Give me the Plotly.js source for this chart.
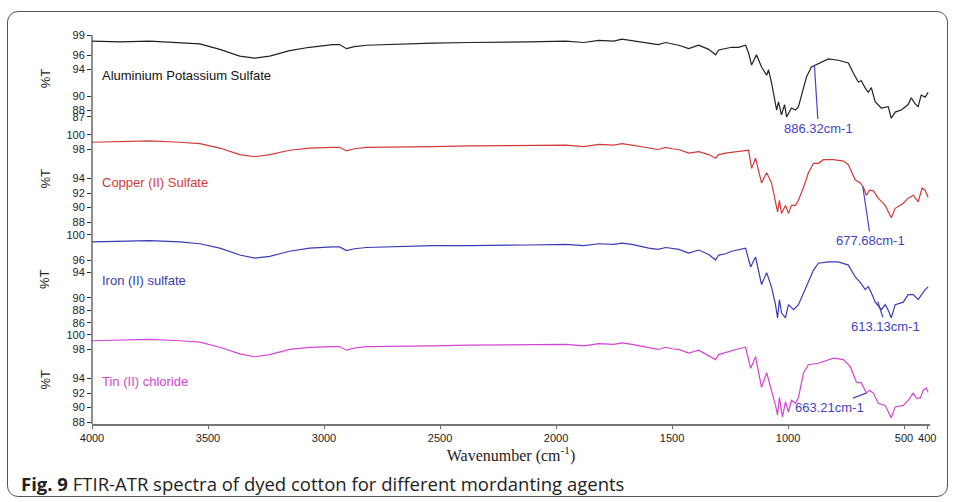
<!DOCTYPE html>
<html>
<head>
<meta charset="utf-8">
<script src="https://cdn.plot.ly/plotly-3.0.1.min.js"></script>
<style>
  html, body { margin: 0; padding: 0; background: #fff; }
  #wrap { position: relative; width: 955px; height: 502px; }
  #chart { position: absolute; left: 0; top: 0; width: 955px; height: 502px; }
  #frame { position: absolute; left: 7px; top: 11px; width: 939px; height: 484px;
           border: 1.3px solid #555; border-radius: 11px; pointer-events: none; }
</style>
</head>
<body>
<div id="wrap">
  <div id="chart"></div>
  <div id="frame"></div>
</div>
<script>
// ---- Data ----
const seriesNames = ["Aluminium Potassium Sulfate", "Copper (II) Sulfate", "Iron (II) sulfate", "Tin (II) chloride"];

const wnAl = [4000,3880,3751,3622,3535,3449,3363,3299,3234,3148,3062,2963,2933,2903,2869,2817,2675,2533,2374,2245,2116,1957,1880,1815,1750,1716,1673,1600,1560,1527,1500,1471,1428,1385,1342,1312,1299,1269,1243,1213,1183,1170,1157,1136,1114,1092,1084,1071,1058,1049,1041,1028,1015,1006,985,968,955,942,920,899,882,860,826,783,740,718,697,684,667,654,641,624,598,568,555,538,512,482,469,452,439,426,409,396];
const tAl  = [98.1,98.0,98.1,97.9,97.7,96.9,95.9,95.6,95.9,96.7,97.2,97.6,97.6,97.0,97.3,97.5,97.7,97.8,97.9,98.0,98.0,98.1,97.9,98.2,98.1,98.4,98.2,97.8,97.6,97.9,97.7,97.5,97.0,97.5,96.9,96.1,96.8,97.0,97.2,97.2,97.5,96.4,94.6,96.1,94.3,93.1,93.9,92.0,89.5,88.0,89.2,87.3,88.8,87.0,88.3,88.0,88.5,90.2,92.9,94.3,94.6,95.0,95.5,95.3,94.9,93.4,92.1,92.3,91.2,90.6,91.3,89.2,88.3,88.5,86.8,87.7,88.0,88.8,89.8,88.9,88.5,90.2,89.9,90.6];

const wnCu = [4000,3880,3751,3622,3535,3449,3363,3299,3234,3148,3062,2963,2933,2903,2869,2817,2675,2533,2374,2245,2116,1957,1880,1815,1750,1716,1673,1600,1560,1527,1500,1471,1428,1385,1342,1312,1299,1269,1243,1213,1170,1157,1140,1114,1092,1071,1054,1045,1037,1028,1011,998,985,968,955,933,912,890,869,847,804,761,740,710,688,675,662,649,632,611,581,555,538,503,482,460,439,422,409,396];
const tCu  = [99.0,99.1,99.2,99.0,98.8,98.2,97.3,97.0,97.3,97.9,98.2,98.3,98.3,97.8,98.1,98.3,98.4,98.4,98.5,98.5,98.5,98.6,98.4,98.7,98.6,98.8,98.6,98.2,98.0,98.3,98.1,98.0,97.5,97.7,97.3,96.8,97.3,97.5,97.6,97.7,97.9,95.4,96.8,93.4,94.8,93.4,90.8,89.4,91.0,89.2,90.3,89.2,90.3,90.3,91.0,92.8,94.8,96.1,96.1,96.6,96.6,96.4,95.9,93.8,93.4,92.8,91.7,92.4,92.3,91.3,90.3,88.6,89.9,90.6,91.3,91.7,90.8,92.7,92.4,91.4];

const wnFe = [4000,3880,3751,3622,3535,3449,3363,3299,3234,3148,3062,2963,2933,2903,2869,2817,2675,2533,2374,2245,2116,1957,1880,1815,1750,1716,1673,1600,1560,1527,1500,1471,1428,1385,1342,1312,1299,1269,1243,1213,1183,1161,1140,1114,1092,1071,1054,1045,1037,1028,1011,998,976,955,933,912,890,869,826,783,740,710,688,667,654,641,624,598,581,568,555,538,503,482,460,439,422,409,396];
const tFe  = [98.9,99.0,99.1,98.9,98.6,97.9,96.8,96.3,96.6,97.4,97.9,98.1,98.1,97.5,97.8,98.0,98.2,98.3,98.3,98.4,98.4,98.5,98.3,98.6,98.5,98.7,98.5,97.9,97.7,98.0,97.8,97.7,97.1,97.6,96.9,96.0,96.8,97.0,97.4,97.6,97.9,94.9,96.5,92.1,94.0,91.7,88.9,86.8,89.7,87.6,86.8,88.9,88.1,88.9,90.8,92.8,94.4,95.5,95.7,95.7,95.2,93.3,92.4,91.3,91.8,90.8,89.3,88.1,88.9,88.0,86.8,88.9,89.3,90.5,90.5,89.7,90.5,91.3,91.7];

const wnSn = [4000,3880,3751,3622,3535,3449,3363,3299,3234,3148,3062,2963,2933,2903,2869,2817,2675,2533,2374,2245,2116,1957,1880,1815,1750,1716,1673,1600,1560,1527,1500,1471,1428,1385,1342,1312,1299,1269,1243,1213,1183,1161,1140,1114,1092,1071,1054,1045,1037,1024,1011,998,985,968,955,933,912,869,804,761,731,705,684,662,649,632,611,581,555,538,503,482,460,447,430,417,404,396];
const tSn  = [99.2,99.3,99.4,99.2,99.0,98.3,97.4,97.0,97.3,98.0,98.3,98.4,98.4,97.9,98.2,98.4,98.5,98.5,98.6,98.6,98.6,98.7,98.5,98.8,98.7,98.9,98.7,98.2,98.0,98.3,98.1,98.0,97.5,97.9,97.2,96.6,97.3,97.6,97.9,98.1,98.3,95.4,97.0,92.8,94.8,92.4,90.3,89.0,91.4,88.7,90.8,89.4,91.0,90.6,91.4,94.8,95.9,96.1,96.8,96.6,95.6,93.5,93.4,92.0,92.4,92.0,90.6,90.3,88.6,90.1,90.3,91.0,92.0,91.3,91.3,92.4,92.7,92.1];

const xTicks = [4000, 3500, 3000, 2500, 2000, 1500, 1000, 500, 400];
const yTicksAl = [99, 96, 94, 90, 88, 87];
const yTicksCu = [100, 98, 94, 92, 90, 88];
const yTicksFe = [100, 96, 94, 90, 88, 86];
const yTicksSn = [100, 98, 94, 92, 90, 88];

const peakLabels = ["886.32cm-1", "677.68cm-1", "613.13cm-1", "663.21cm-1"];
const peakWn = [886.32, 677.68, 613.13, 663.21];
const peakT = [94.6, 92.9, 89.4, 92.0];

// ---- Styling ----
const colors = ["#222222", "#d23a3a", "#3a3ab4", "#d444d4"];
const labelColors = ["#111111", "#d23a3a", "#3a3ab4", "#d444d4"];
const annColor = "#4444c8";
const tickFont = {family: "Liberation Sans, Arial, sans-serif", size: 11, color: "#222"};

const traces = [
  {x: wnAl, y: tAl, yaxis: "y"},
  {x: wnCu, y: tCu, yaxis: "y2"},
  {x: wnFe, y: tFe, yaxis: "y3"},
  {x: wnSn, y: tSn, yaxis: "y4"}
].map((t, i) => Object.assign(t, {
  type: "scatter", mode: "lines", xaxis: "x", name: seriesNames[i],
  line: {color: colors[i], width: 1.2}, hoverinfo: "x+y"
}));

function yax(domain, range, ticks) {
  return {
    domain: domain, range: range, anchor: "x",
    tickvals: ticks, ticks: "outside", ticklen: 4, tickwidth: 1, tickcolor: "#333",
    showline: false, showgrid: false, zeroline: false, tickfont: tickFont
  };
}

const layout = {
  width: 955, height: 502,
  margin: {l: 92, r: 25, t: 35, b: 78},
  paper_bgcolor: "#fff", plot_bgcolor: "#fff",
  showlegend: false,
  xaxis: {
    range: [4000, 388], anchor: "y4", tickvals: xTicks, tickangle: 0,
    ticks: "outside", ticklen: 3, tickcolor: "#666",
    showline: true, linecolor: "#777", linewidth: 2,
    showgrid: false, zeroline: false, tickfont: tickFont,
    title: {text: "Wavenumber (cm<sup>-1</sup>)", standoff: 6,
            font: {family: "Liberation Serif, Times New Roman, serif", size: 16, color: "#222"}}
  },
  yaxis:  yax([0.779, 1.0],   [86.4, 99],  yTicksAl),
  yaxis2: yax([0.519, 0.743], [88, 100],   yTicksCu),
  yaxis3: yax([0.260, 0.486], [86, 100],   yTicksFe),
  yaxis4: yax([0.0, 0.229],   [87.75, 100], yTicksSn),
  shapes: [
    {type: "line", xref: "paper", yref: "paper", x0: 0, x1: 0, y0: 0, y1: 1,
     line: {color: "#444", width: 1.2}}
  ],
  annotations: []
};

// %T axis labels
const panelMid = [0.889, 0.631, 0.373, 0.1145];
panelMid.forEach(y => layout.annotations.push({
  xref: "paper", yref: "paper", x: -0.056, y: y, text: "%T", textangle: -90,
  showarrow: false, xanchor: "center", yanchor: "middle",
  font: {family: "Liberation Sans, Arial, sans-serif", size: 13, color: "#222"}
}));

// series labels
const labelY = [0.895, 0.622, 0.368, 0.1105];
seriesNames.forEach((n, i) => layout.annotations.push({
  xref: "paper", yref: "paper", x: 0.0095, y: labelY[i], text: n,
  showarrow: false, xanchor: "left", yanchor: "middle",
  font: {family: "Liberation Sans, Arial, sans-serif", size: 13, color: labelColors[i]}
}));

// peak annotations
const axOff = [4, 8, 8, -37];
const ayOff = [63, 54, 25, 14];
const yrefs = ["y", "y2", "y3", "y4"];
peakLabels.forEach((t, i) => layout.annotations.push({
  xref: "x", yref: yrefs[i], x: peakWn[i], y: peakT[i], text: t,
  showarrow: true, arrowhead: 0, arrowwidth: 1.2, arrowcolor: annColor,
  ax: axOff[i], ay: ayOff[i], standoff: 0,
  font: {family: "Liberation Sans, Arial, sans-serif", size: 13, color: annColor}
}));

// caption
layout.annotations.push({
  xref: "paper", yref: "paper", x: -0.087, y: -0.152, xanchor: "left", yanchor: "middle",
  showarrow: false, align: "left",
  text: "<b>Fig. 9</b> FTIR-ATR spectra of dyed cotton for different mordanting agents",
  font: {family: "Open Sans, Noto Sans, sans-serif", size: 18.5, color: "#222"}
});

Plotly.newPlot("chart", traces, layout, {displayModeBar: false, staticPlot: true});
</script>
</body>
</html>
